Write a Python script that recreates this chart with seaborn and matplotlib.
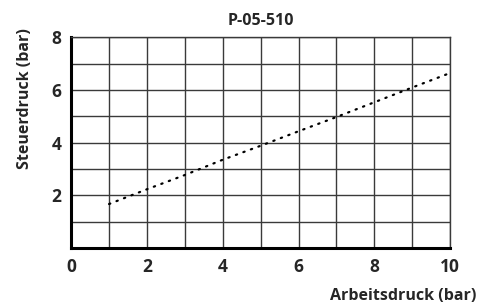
import matplotlib
matplotlib.use("Agg")
import matplotlib.pyplot as plt
import seaborn as sns
import pandas as pd

# values
arbeitsdruck = [1, 2, 3, 4, 5, 6, 7, 8, 9, 10]
steuerdruck = [1.67, 2.23, 2.77, 3.35, 3.88, 4.43, 4.97, 5.53, 6.09, 6.64]
x_ticks = [0, 2, 4, 6, 8, 10]
y_ticks = [2, 4, 6, 8]

df = pd.DataFrame({"x": arbeitsdruck, "y": steuerdruck})

sns.set_style("white")
plt.rcParams["font.family"] = ["Open Sans", "DejaVu Sans"]
plt.rcParams["font.weight"] = "bold"

fig, ax = plt.subplots(figsize=(4.84, 3.07), dpi=100)
fig.subplots_adjust(left=0.147, right=0.930, top=0.879, bottom=0.192)

sns.lineplot(data=df, x="x", y="y", ax=ax, color="black",
             linewidth=1.6, linestyle=(0, (0.6, 3.0)),
             dash_capstyle="round")

ax.set_xlim(0, 10)
ax.set_ylim(0, 8)
ax.set_xticks(x_ticks)
ax.set_yticks(y_ticks)
ax.set_xticks(range(0, 11), minor=True)
ax.set_yticks(range(0, 9), minor=True)
ax.grid(True, which="both", color="#3a3a3a", linewidth=1.0)
ax.tick_params(which="both", length=0, labelsize=12.5, pad=7)
for lab in ax.get_xticklabels() + ax.get_yticklabels():
    lab.set_fontweight("bold")

for s in ["top", "right"]:
    ax.spines[s].set_color("#3a3a3a")
    ax.spines[s].set_linewidth(1.0)
for s in ["left", "bottom"]:
    ax.spines[s].set_color("black")
    ax.spines[s].set_linewidth(2.2)

ax.set_title("P-05-510", fontsize=11.5, fontweight="bold", pad=9)
ax.set_ylabel("Steuerdruck (bar)", fontsize=11.5, fontweight="bold",
              ha="center", va="center")
ax.yaxis.set_label_coords(-0.121, 0.71)
ax.set_xlabel("Arbeitsdruck (bar)", fontsize=11.5, fontweight="bold",
              ha="right", va="center")
ax.xaxis.set_label_coords(1.07, -0.225)

fig.savefig("out.png", dpi=100)
